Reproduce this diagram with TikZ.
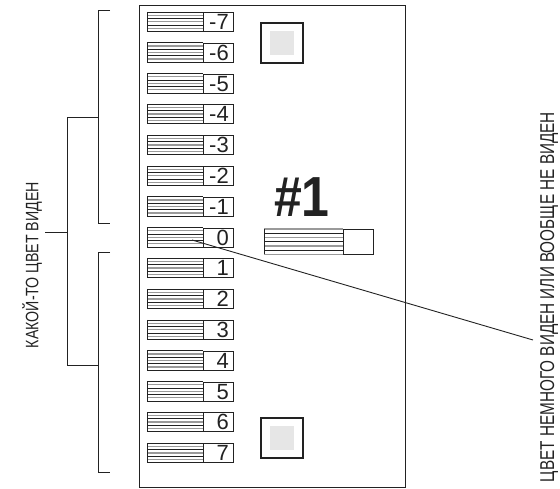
\documentclass[tikz,border=0pt]{standalone}
\usepackage{fontspec}
\setmainfont{Liberation Sans}
\usepackage{graphicx}
\usetikzlibrary{calc}
\definecolor{ink}{HTML}{222222}
\definecolor{stripgray}{HTML}{9A9A9A}
\definecolor{padgray}{HTML}{E6E6E6}
\begin{document}
\begin{tikzpicture}[x=1pt,y=-1pt,
  frame/.style={draw=ink, line width=1.2pt, inner sep=0pt, anchor=north west},
  numbox/.style={draw=ink, line width=1pt, minimum width=30pt, minimum height=19pt, inner sep=0pt, anchor=north west},
  stripbox/.style={minimum width=56pt, minimum height=19pt, inner sep=0pt, anchor=north west},
  numlabel/.style={anchor=east, inner sep=0pt, font=\fontsize{22}{22}\selectfont, text=ink},
  darkline/.style={draw=ink, line width=0.8pt},
  grayline/.style={draw=stripgray, line width=1.3pt},
  pad/.style={draw=ink, line width=1.2pt, minimum width=42pt, minimum height=40pt, inner sep=0pt},
  padin/.style={fill=padgray, minimum width=24pt, minimum height=24pt, inner sep=0pt},
  bracket/.style={draw=ink, line width=0.9pt},
  sidetext/.style={rotate=90, anchor=north, inner sep=0pt, text=ink},
  leader/.style={draw=ink, line width=0.9pt}
]
\useasboundingbox (0,0) rectangle (560,489);

% main frame
\node[frame, minimum width=266pt, minimum height=482pt] (frame) at (139,5) {};

% rows of contacts
\foreach \lab [count=\r from 0] in {-7,-6,-5,-4,-3,-2,-1,0,1,2,3,4,5,6,7} {
  \pgfmathsetmacro\yy{12+30.8*\r}
  \node[stripbox] (s\r) at (147,\yy) {};
  \node[numbox] (b\r) at (203,\yy) {};
  \node[numlabel] (n\r) at ($(b\r.east)+(-5,0)$) {\lab};
  \foreach \k/\st in {0/darkline,1/grayline,2/darkline,3/grayline,4/darkline,5/grayline,6/darkline} {
    \draw[\st] ($(s\r.north west)!\k/6!(s\r.south west)$) -- ($(s\r.north east)!\k/6!(s\r.south east)$);
  }
  \draw[darkline] (s\r.north west) -- (s\r.south west);
}

% title and single contact
\node[inner sep=0pt, text=ink, font=\bfseries\fontsize{50}{50}\selectfont] (title) at (302,197) {\scalebox{1}[1.13]{\#1}};
\node[stripbox, minimum width=79pt, minimum height=25pt] (ts) at (264,229) {};
\node[numbox, minimum height=25pt] (tb) at (343,229) {};
\foreach \k/\st in {0/grayline,1/darkline,2/grayline,3/darkline,4/grayline,5/darkline,6/grayline} {
  \draw[\st] ($(ts.north west)!\k/6!(ts.south west)$) -- ($(ts.north east)!\k/6!(ts.south east)$);
}
\draw[darkline] (ts.north west) -- (ts.south west);

% pads
\node[pad] (padtop) at (282,43) {};
\node[padin] (padtopin) at (padtop.center) {};
\node[pad] (padbot) at (282,438) {};
\node[padin] (padbotin) at (padbot.center) {};

% brackets
\coordinate (ua) at (110,10);
\coordinate (ub) at (98,10);
\coordinate (uc) at (98,223);
\coordinate (ud) at (110,223);
\coordinate (um) at (98,117);
\coordinate (la) at (110,252);
\coordinate (lb) at (98,252);
\coordinate (lc) at (98,472);
\coordinate (ld) at (110,472);
\coordinate (lm) at (98,365);
\coordinate (cu) at (67,117);
\coordinate (cl) at (67,365);
\coordinate (cs) at (67,232);
\coordinate (ce) at (45,232);
\draw[bracket] (ua) -- (ub) -- (uc) -- (ud);
\draw[bracket] (la) -- (lb) -- (lc) -- (ld);
\draw[bracket] (um) -- (cu) -- (cl) -- (lm);
\draw[bracket] (cs) -- (ce);

% side texts
\node[sidetext, font=\fontsize{18}{18}\selectfont] (ltext) at (22,265) {\resizebox{166pt}{\height}{КАКОЙ-ТО ЦВЕТ ВИДЕН}};
\node[sidetext, font=\fontsize{20}{20}\selectfont] (rtext) at (540,297) {\resizebox{370pt}{\height}{ЦВЕТ НЕМНОГО ВИДЕН ИЛИ ВООБЩЕ НЕ ВИДЕН}};

% leader
\coordinate (lead0) at (192,240);
\coordinate (lead1) at (533,340);
\draw[leader] (lead0) -- (lead1);
\end{tikzpicture}
\end{document}
